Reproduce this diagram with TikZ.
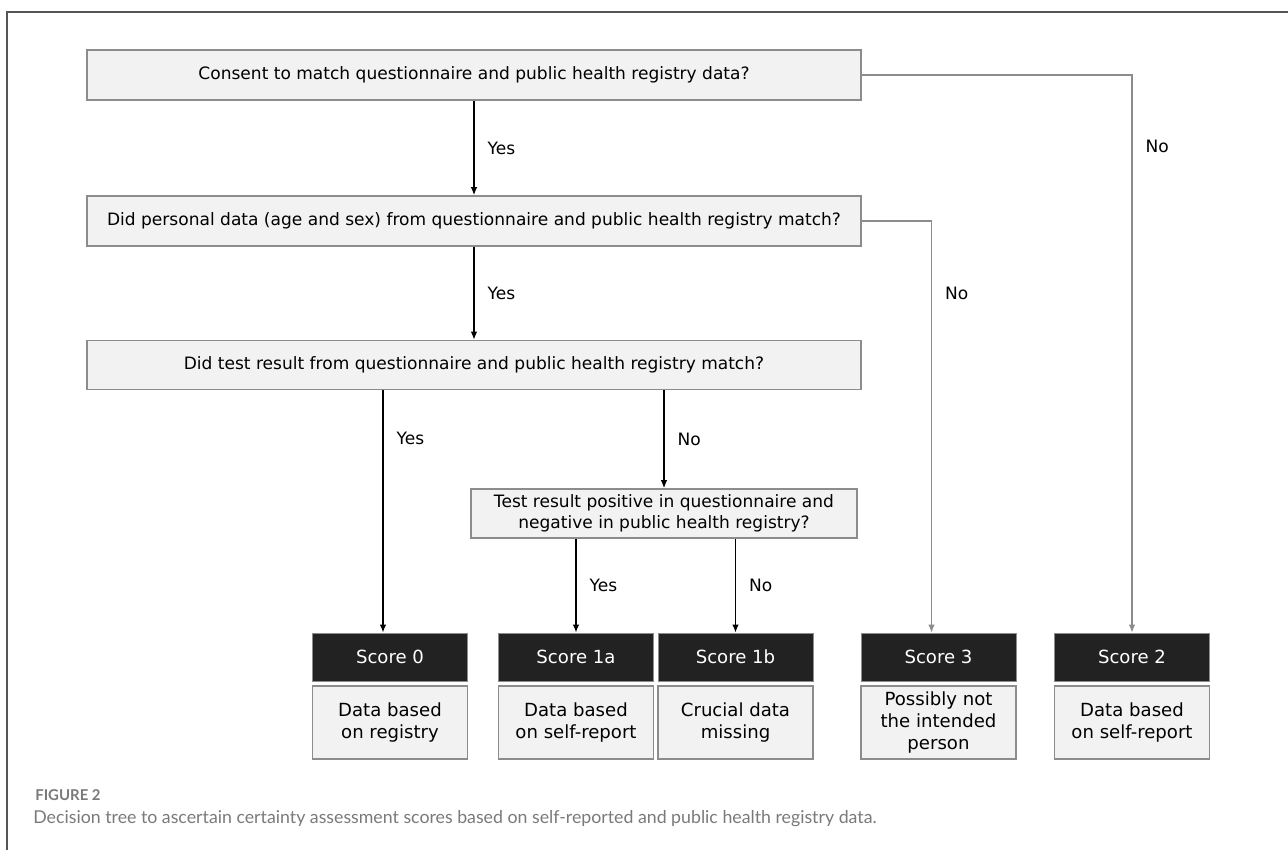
\documentclass[tikz,border=0pt]{standalone}
\usepackage{fontspec}
\setmainfont{DejaVu Sans}
\newfontfamily\capfont{Lato}
\usetikzlibrary{arrows.meta}
\definecolor{boxfill}{HTML}{F2F2F2}
\definecolor{boxline}{HTML}{8C8C8C}
\definecolor{scorefill}{HTML}{222222}
\definecolor{framegray}{HTML}{555555}
\definecolor{capgray}{HTML}{7A7A7A}
\begin{document}
\begin{tikzpicture}[x=0.02cm, y=-0.02cm,
  question/.style={draw=boxline, line width=0.9pt, fill=boxfill, align=center, inner sep=0pt, minimum width=15.48cm, minimum height=1cm, font=\fontsize{9.7}{12.2}\selectfont},
  score/.style={draw=boxline, line width=0.5pt, fill=scorefill, text=white, inner sep=0pt, minimum width=3.1cm, minimum height=0.96cm, font=\fontsize{10.3}{12.3}\selectfont},
  result/.style={draw=boxline, line width=0.9pt, fill=boxfill, align=center, inner sep=0pt, minimum width=3.1cm, minimum height=1.46cm, font=\fontsize{10.3}{12.3}\selectfont},
  arr/.style={line width=0.8pt, -{Latex[length=0.16cm, width=0.13cm]}},
  grayarr/.style={arr, draw=boxline, line width=0.6pt},
  lbl/.style={anchor=west, inner sep=0pt, xshift=0.26cm, font=\fontsize{9.7}{12}\selectfont}]
\fill[white] (0,0) rectangle (1288,850);
\useasboundingbox (0,0) rectangle (1288,850);
\draw[framegray, line width=0.8pt] (1288,12) -- (7,12) -- (7,850);
\node[question] (consent) at (474,75) {Consent to match questionnaire and public health registry data?};
\node[question] (personal) at (474,221) {Did personal data (age and sex) from questionnaire and public health registry match?};
\node[question, minimum height=0.98cm] (test) at (474,365) {Did test result from questionnaire and public health registry match?};
\node[question, minimum width=7.72cm, minimum height=0.98cm] (positive) at (664,513.5) {Test result positive in questionnaire and\\negative in public health registry?};
\node[score] (s0) at (390,657) {Score 0};
\node[score] (s1a) at (576,657) {Score 1a};
\node[score] (s1b) at (735.5,657) {Score 1b};
\node[score] (s3) at (938.5,657) {Score 3};
\node[score] (s2) at (1132,657) {Score 2};
\node[result] (r0) at (390,722.5) {Data based\\on registry};
\node[result] (r1a) at (576,722.5) {Data based\\on self-report};
\node[result] (r1b) at (735.5,722.5) {Crucial data\\missing};
\node[result] (r3) at (938.5,722.5) {Possibly not\\the intended\\person};
\node[result] (r2) at (1132,722.5) {Data based\\on self-report};
\coordinate (s0top) at ([xshift=-0.14cm]s0.north);
\coordinate (s3top) at ([xshift=-0.14cm]s3.north);
\draw[arr] (consent) -- node[lbl] {Yes} (personal);
\draw[arr] (personal) -- node[lbl] {Yes} (test);
\draw[arr] (test.south -| s0top) -- node[lbl, pos=0.2] {Yes} (s0top);
\draw[arr] (test.south -| positive.north) -- node[lbl] {No} (positive.north);
\draw[arr] (positive.south -| s1a.north) -- node[lbl] {Yes} (s1a.north);
\draw[arr] (positive.south -| s1b.north) -- node[lbl] {No} (s1b.north);
\draw[grayarr] (consent.east) -| node[lbl, pos=0.564] {No} (s2.north);
\draw[grayarr] (personal.east) -| node[lbl, pos=0.588] {No} (s3top);
\node[anchor=west, inner sep=0pt, text=capgray, font=\capfont\bfseries\fontsize{8.5}{10}\selectfont] (figno) at (35,795) {FIGURE 2};
\node[anchor=west, inner sep=0pt, text=capgray, font=\capfont\fontsize{10.1}{12}\selectfont] (caption) at (33,819) {Decision tree to ascertain certainty assessment scores based on self-reported and public health registry data.};
\end{tikzpicture}
\end{document}
